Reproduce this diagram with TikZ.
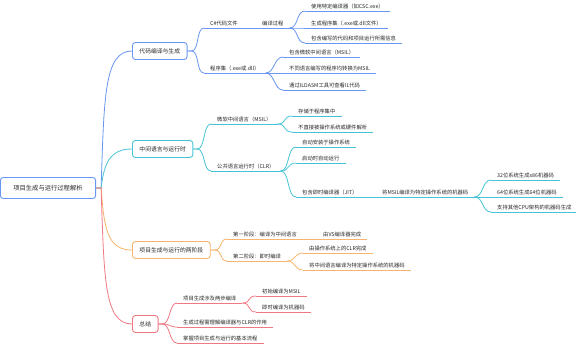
\documentclass[tikz,border=0pt]{standalone}
\usepackage{fontspec}
\setmainfont{Noto Sans CJK SC}
\usetikzlibrary{positioning}

\definecolor{mapblue}{RGB}{104,150,240}
\definecolor{mapcyan}{RGB}{70,196,214}
\definecolor{maporange}{RGB}{246,180,108}
\definecolor{mapred}{RGB}{240,120,130}
\definecolor{maptext}{RGB}{40,40,40}

\tikzset{
  rootbox/.style={draw=mapblue, line width=0.9pt, rounded corners=3pt, fill=white,
    text=maptext, font=\fontsize{6.3}{7}\selectfont, minimum height=21pt, inner xsep=13pt},
  branchbox/.style={draw=#1, line width=0.9pt, rounded corners=3pt, fill=white,
    text=maptext, font=\fontsize{5.8}{7}\selectfont, minimum height=17pt, inner xsep=7pt, anchor=west},
  topic/.style={anchor=south west, inner xsep=6pt, inner ysep=2pt, text=maptext,
    font=\fontsize{5.3}{6}\selectfont},
  maplink/.style={draw=#1, line width=0.8pt},
}

\begin{document}
\begin{tikzpicture}[x=1pt, y=-1pt]
  % --- 画布 ---
  \fill[white] (0,0) rectangle (576,362);
  \useasboundingbox (0,0) rectangle (576,362);

  % --- 中心主题 ---
  \node[rootbox] (root) at (48,188) {项目生成与运行过程解析};

  % --- 一级分支 ---
  \node[branchbox=mapblue]   (b1) at (132,51)  {代码编译与生成};
  \node[branchbox=mapcyan]   (b2) at (132,149) {中间语言与运行时};
  \node[branchbox=maporange] (b3) at (132,250) {项目生成与运行的两阶段};
  \node[branchbox=mapred]    (b4) at (132,324) {总结};

  % --- 分支 1：代码编译与生成 ---
  \node[topic] (n11)   at (204,28)  {C\#代码文件};
  \node[topic] (n111)  at (256,28)  {编译过程};
  \node[topic] (n1111) at (305,11)  {使用特定编译器（如CSC.exe）};
  \node[topic] (n1112) at (305,28)  {生成程序集（.exe或.dll文件）};
  \node[topic] (n1113) at (305,43)  {包含编写的代码和项目运行所需信息};
  \node[topic] (n12)   at (204,73)  {程序集（.exe或.dll）};
  \node[topic] (n121)  at (283,57)  {包含微软中间语言（MSIL）};
  \node[topic] (n122)  at (283,73)  {不同语言编写的程序均转换为MSIL};
  \node[topic] (n123)  at (283,90)  {通过ILDASM工具可查看IL代码};

  % --- 分支 2：中间语言与运行时 ---
  \node[topic] (n21)    at (211,124) {微软中间语言（MSIL）};
  \node[topic] (n211)   at (292,116) {存储于程序集中};
  \node[topic] (n212)   at (292,132) {不直接被操作系统或硬件解析};
  \node[topic] (n22)    at (211,171) {公共语言运行时（CLR）};
  \node[topic] (n221)   at (296,147) {自动安装于操作系统};
  \node[topic] (n222)   at (296,163) {启动时自动运行};
  \node[topic] (n223)   at (296,197) {包含即时编译器（JIT）};
  \node[topic] (n2231)  at (376,197) {将MSIL编译为特定操作系统的机器码};
  \node[topic] (n22311) at (491,180) {32位系统生成x86机器码};
  \node[topic] (n22312) at (491,197) {64位系统生成64位机器码};
  \node[topic] (n22313) at (491,212) {支持其他CPU架构的机器码生成};

  % --- 分支 3：两阶段 ---
  \node[topic] (n31)  at (227,239) {第一阶段：编译为中间语言};
  \node[topic] (n311) at (317,239) {由VS编译器完成};
  \node[topic] (n32)  at (227,261) {第二阶段：即时编译};
  \node[topic] (n321) at (303,253) {由操作系统上的CLR完成};
  \node[topic] (n322) at (303,270) {将中间语言编译为特定操作系统的机器码};

  % --- 分支 4：总结 ---
  \node[topic] (n41)  at (177,303) {项目生成涉及两步编译};
  \node[topic] (n411) at (256,296) {初始编译为MSIL};
  \node[topic] (n412) at (256,312) {即时编译为机器码};
  \node[topic] (n42)  at (177,327) {生成过程需理解编译器与CLR的作用};
  \node[topic] (n43)  at (177,343) {掌握项目生成与运行的基本流程};

  % --- 中心到分支的连线 ---
  \draw[maplink=mapblue]   (root.east) -- ++(5,0) .. controls +(3,-90) and +(-28,0) .. (b1.west);
  \draw[maplink=mapcyan]   (root.east) -- ++(5,0) .. controls +(3,-25) and +(-22,0) .. (b2.west);
  \draw[maplink=maporange] (root.east) -- ++(5,0) .. controls +(3,40) and +(-25,0) .. (b3.west);
  \draw[maplink=mapred]    (root.east) -- ++(5,0) .. controls +(3,90) and +(-28,0) .. (b4.west);

  % --- 下划线 ---
  \foreach \n in {n11,n111,n1111,n1112,n1113,n12,n121,n122,n123}
    \draw[maplink=mapblue] (\n.south west) -- (\n.south east);
  \foreach \n in {n21,n211,n212,n22,n221,n222,n223,n2231,n22311,n22312,n22313}
    \draw[maplink=mapcyan] (\n.south west) -- (\n.south east);
  \foreach \n in {n31,n311,n32,n321,n322}
    \draw[maplink=maporange] (\n.south west) -- (\n.south east);
  \foreach \n in {n41,n411,n412,n42,n43}
    \draw[maplink=mapred] (\n.south west) -- (\n.south east);

  % --- 分支内部连线 ---
  \foreach \c in {n11,n12}
    \draw[maplink=mapblue] (b1.east) -- ++(4,0) .. controls +(8,0) and +(-8,0) .. (\c.south west);
  \draw[maplink=mapblue] (n11.south east) -- (n111.south west);
  \foreach \c in {n1111,n1112,n1113}
    \draw[maplink=mapblue] (n111.south east) .. controls +(9,0) and +(-9,0) .. (\c.south west);
  \foreach \c in {n121,n122,n123}
    \draw[maplink=mapblue] (n12.south east) .. controls +(9,0) and +(-9,0) .. (\c.south west);

  \foreach \c in {n21,n22}
    \draw[maplink=mapcyan] (b2.east) -- ++(4,0) .. controls +(8,0) and +(-8,0) .. (\c.south west);
  \foreach \c in {n211,n212}
    \draw[maplink=mapcyan] (n21.south east) .. controls +(9,0) and +(-9,0) .. (\c.south west);
  \foreach \c in {n221,n222,n223}
    \draw[maplink=mapcyan] (n22.south east) .. controls +(9,0) and +(-9,0) .. (\c.south west);
  \draw[maplink=mapcyan] (n223.south east) -- (n2231.south west);
  \foreach \c in {n22311,n22312,n22313}
    \draw[maplink=mapcyan] (n2231.south east) .. controls +(9,0) and +(-9,0) .. (\c.south west);

  \foreach \c in {n31,n32}
    \draw[maplink=maporange] (b3.east) -- ++(4,0) .. controls +(8,0) and +(-8,0) .. (\c.south west);
  \draw[maplink=maporange] (n31.south east) -- (n311.south west);
  \foreach \c in {n321,n322}
    \draw[maplink=maporange] (n32.south east) .. controls +(9,0) and +(-9,0) .. (\c.south west);

  \foreach \c in {n41,n42,n43}
    \draw[maplink=mapred] (b4.east) -- ++(4,0) .. controls +(8,0) and +(-8,0) .. (\c.south west);
  \foreach \c in {n411,n412}
    \draw[maplink=mapred] (n41.south east) .. controls +(9,0) and +(-9,0) .. (\c.south west);
\end{tikzpicture}
\end{document}
